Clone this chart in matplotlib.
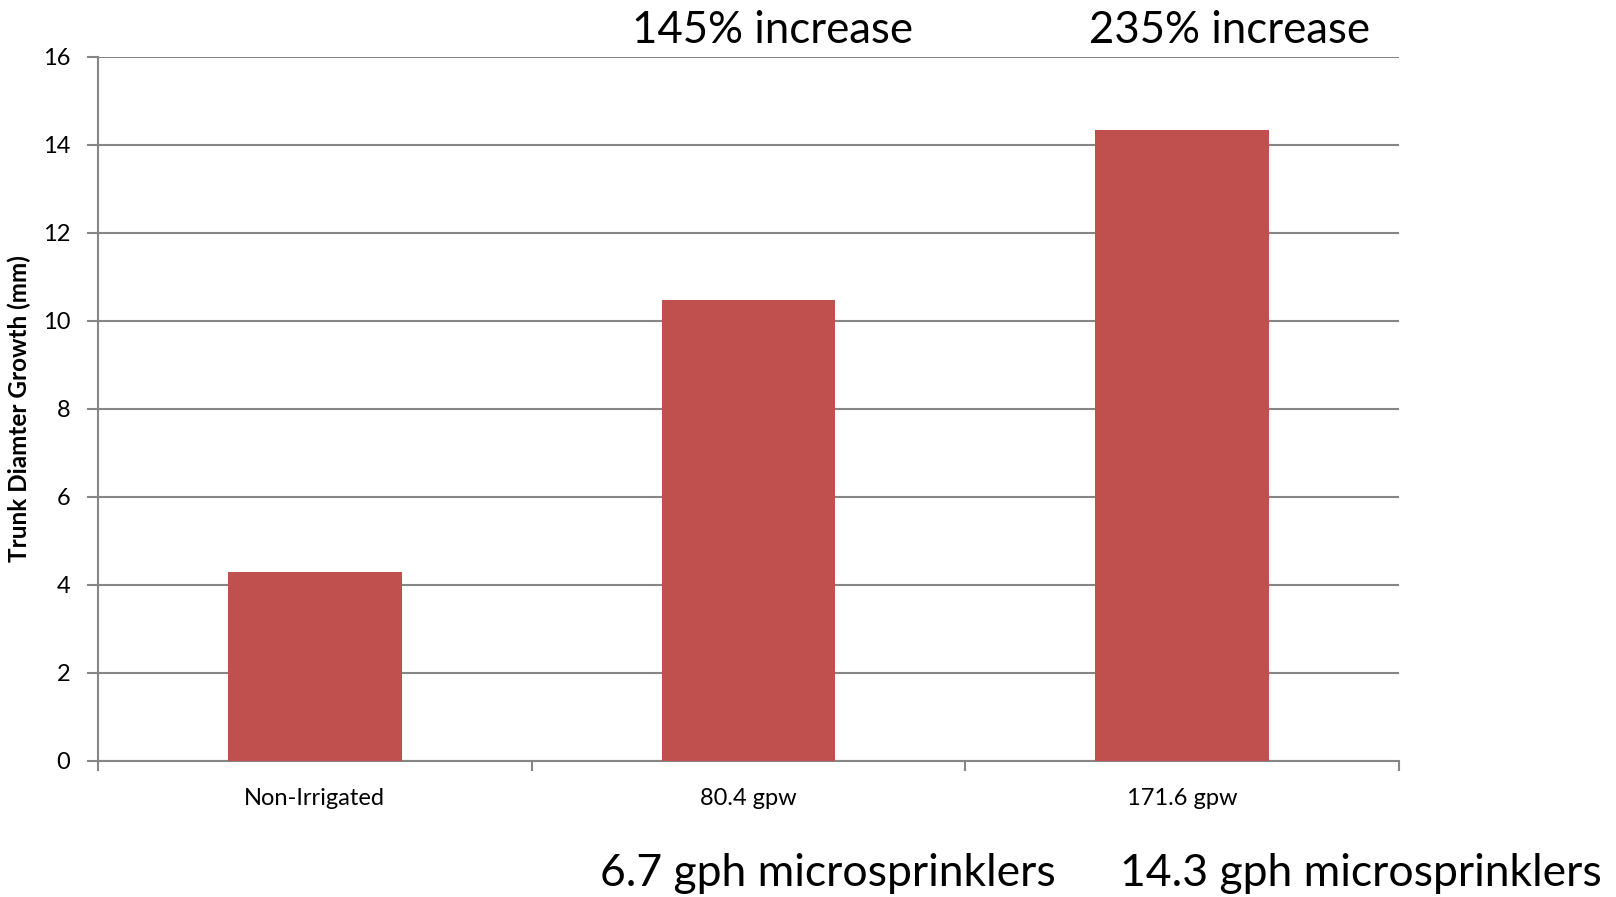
import matplotlib
matplotlib.use('Agg')
import matplotlib.pyplot as plt
import numpy as np

# trunk diameter growth per irrigation treatment
categories = ['Non-Irrigated', '80.4 gpw', '171.6 gpw']
growth = [4.28, 10.48, 14.34]
increase_labels = ['145% increase', '235% increase']
emitter_labels = ['6.7 gph microsprinklers', '14.3 gph microsprinklers']

BAR = '#C0504D'
GRID = '#868686'

plt.rcParams['font.family'] = ['Lato', 'DejaVu Sans']

fig = plt.figure(figsize=(16.16, 8.97), dpi=100)
ax = fig.add_axes([0.0606, 0.152, 0.8051, 0.7848])

x = np.arange(len(categories))
ax.bar(x, growth, width=0.4, color=BAR, zorder=3)

ax.set_ylim(0, 16)
ax.set_xlim(-0.5, len(categories) - 0.5)
ax.set_yticks(np.arange(0, 17, 2))
ax.set_xticks(x)
ax.set_xticklabels(categories, fontsize=17)
ax.set_xticks(np.arange(-0.5, len(categories), 1), minor=True)
ax.tick_params(axis='x', which='major', length=0, pad=20)
ax.tick_params(axis='x', which='minor', length=7, width=1.5, color=GRID, direction='out')
ax.tick_params(axis='y', length=8, width=1.5, color=GRID, labelsize=17, pad=12)

ax.grid(axis='y', color=GRID, linewidth=1.5, zorder=0)
for s in ['top', 'right']:
    ax.spines[s].set_visible(False)
for s in ['left', 'bottom']:
    ax.spines[s].set_color(GRID)
    ax.spines[s].set_linewidth(1.5)

ax.set_ylabel('Trunk Diamter Growth (mm)', fontsize=17.5, fontweight='bold', labelpad=8)

for xf, txt in zip([0.478, 0.761], increase_labels):
    fig.text(xf, 0.966, txt, ha='center', va='center', fontsize=31.5)
for xf, txt in zip([0.512, 0.842], emitter_labels):
    fig.text(xf, 0.026, txt, ha='center', va='center', fontsize=32)

fig.savefig('out.png', dpi=100)
